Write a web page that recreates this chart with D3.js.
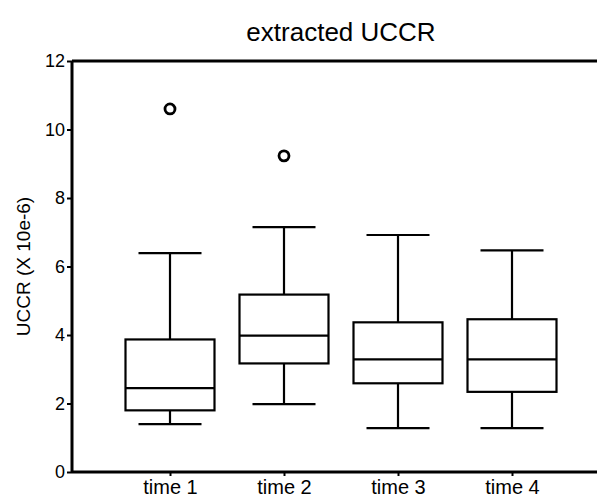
<!DOCTYPE html>
<html>
<head>
<script src="https://d3js.org/d3.v7.min.js"></script>
<style>
  body { margin: 0; background: #fff; }
  text { font-family: "Liberation Sans", Arial, Helvetica, sans-serif; fill: #000; }
</style>
</head>
<body>
<svg id="chart" width="597" height="500"></svg>
<script>
// box plot summaries
const groups = ["time 1", "time 2", "time 3", "time 4"];
const whiskerLow = [1.40, 1.98, 1.28, 1.28];
const q1 = [1.80, 3.17, 2.59, 2.34];
const median = [2.45, 3.98, 3.29, 3.29];
const q3 = [3.87, 5.18, 4.37, 4.46];
const whiskerHigh = [6.39, 7.15, 6.92, 6.47];
const outliers = [[10.6], [9.23], [], []];
const yTicks = [0, 2, 4, 6, 8, 10, 12];

const svg = d3.select("#chart");
const margin = { top: 61, right: 0, bottom: 28, left: 72 };
const width = +svg.attr("width");
const height = +svg.attr("height");

const y = d3.scaleLinear().domain([0, 12]).range([height - margin.bottom, margin.top]);
const x = d3.scalePoint().domain(groups).range([170, 512]);

const boxW = 89, capW = 63;

const data = groups.map((g, i) => ({
  g, lo: whiskerLow[i], q1: q1[i], med: median[i], q3: q3[i], hi: whiskerHigh[i], out: outliers[i]
}));

// title
svg.append("text")
  .attr("x", 341).attr("y", 41)
  .attr("text-anchor", "middle")
  .attr("font-size", 26)
  .text("extracted UCCR");

// top frame line
svg.append("line")
  .attr("x1", margin.left).attr("x2", width)
  .attr("y1", y(12)).attr("y2", y(12))
  .attr("stroke", "#000").attr("stroke-width", 3);

// y axis
const yAxis = svg.append("g")
  .attr("transform", `translate(${margin.left},0)`)
  .call(d3.axisLeft(y).tickValues(yTicks).tickSize(5).tickPadding(2));
yAxis.attr("font-size", null).attr("font-family", null);
yAxis.select(".domain").attr("stroke-width", 3).attr("d", `M0,${y(0)}V${y(12)}`);
yAxis.selectAll(".tick line").attr("stroke-width", 2);
yAxis.selectAll("text").style("font-size", "18px");

// x axis
const xAxis = svg.append("g")
  .attr("transform", `translate(0,${y(0)})`)
  .call(d3.axisBottom(x).tickSize(4).tickPadding(4));
xAxis.attr("font-size", null).attr("font-family", null);
xAxis.select(".domain").attr("stroke-width", 3).attr("d", `M${margin.left},0H${width}`);
xAxis.selectAll(".tick line").attr("stroke-width", 2);
xAxis.selectAll("text").style("font-size", "20px");

// y label
svg.append("text")
  .attr("transform", `translate(30,${(y(0) + y(12)) / 2}) rotate(-90)`)
  .attr("text-anchor", "middle")
  .attr("font-size", 19)
  .text("UCCR (X 10e-6)");

// boxes
const box = svg.append("g").selectAll("g").data(data).join("g")
  .attr("transform", d => `translate(${x(d.g)},0)`)
  .attr("stroke", "#000").attr("stroke-width", 2.2).attr("fill", "none");

box.append("line").attr("x1", 0).attr("x2", 0).attr("y1", d => y(d.q3)).attr("y2", d => y(d.hi));
box.append("line").attr("x1", 0).attr("x2", 0).attr("y1", d => y(d.q1)).attr("y2", d => y(d.lo));
box.append("line").attr("x1", -capW / 2).attr("x2", capW / 2).attr("y1", d => y(d.hi)).attr("y2", d => y(d.hi));
box.append("line").attr("x1", -capW / 2).attr("x2", capW / 2).attr("y1", d => y(d.lo)).attr("y2", d => y(d.lo));
box.append("rect")
  .attr("x", -boxW / 2).attr("width", boxW)
  .attr("y", d => y(d.q3)).attr("height", d => y(d.q1) - y(d.q3));
box.append("line").attr("x1", -boxW / 2).attr("x2", boxW / 2).attr("y1", d => y(d.med)).attr("y2", d => y(d.med));

box.selectAll("circle").data(d => d.out).join("circle")
  .attr("cx", 0).attr("cy", v => y(v)).attr("r", 5)
  .attr("stroke-width", 2.8);
</script>
</body>
</html>
